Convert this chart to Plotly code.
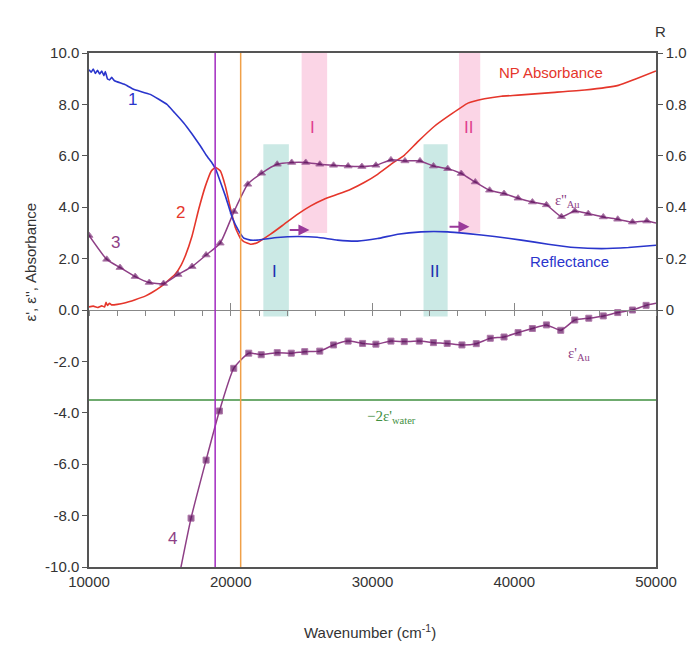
import plotly.graph_objects as go

# ---------------- data ----------------
# Reflectance (right axis, R)
refl_x = [10000, 10150, 10300, 10450, 10600, 10750, 10900, 11050, 11150, 11300, 11450, 11600, 11800,
          12500, 13140, 14320, 15500, 16000, 16670, 17270, 17860, 18300, 18680, 18920, 19030, 19620,
          20100, 20570, 20920, 21400, 21870, 23280, 24700, 26100, 27530, 28940, 30360, 31780, 33420,
          35310, 36730, 38610, 40500, 42390, 44270, 46160, 48050, 50000]
refl_r = [0.935, 0.925, 0.938, 0.920, 0.933, 0.918, 0.930, 0.912, 0.928, 0.900, 0.895, 0.905, 0.892,
          0.878, 0.859, 0.839, 0.800, 0.770, 0.729, 0.685, 0.638, 0.600, 0.572, 0.550, 0.535, 0.444,
          0.360, 0.307, 0.280, 0.272, 0.272, 0.282, 0.286, 0.283, 0.272, 0.268, 0.278, 0.295, 0.304,
          0.304, 0.297, 0.286, 0.272, 0.256, 0.243, 0.239, 0.243, 0.252]

# NP absorbance (left axis)
abs_x = [10000, 10300, 10600, 10900, 11100, 11200, 11300, 11450, 11600, 12000, 12500, 13260, 14000,
         14440, 15000, 15380, 16090, 16500, 16790, 17270, 17740, 18210, 18630, 18920, 19270, 19620,
         19980, 20330, 20690, 20920, 21390, 21870, 22810, 23750, 24700, 25640, 26580, 27530, 28470,
         29410, 30360, 31300, 32240, 33200, 34370, 35550, 36730, 37900, 39090, 40270, 42620, 44980,
         47340, 48520, 50000]
abs_y = [0.12, 0.15, 0.10, 0.16, 0.12, 0.30, 0.18, 0.26, 0.20, 0.22, 0.27, 0.40, 0.55,
         0.68, 0.88, 1.05, 1.40, 1.75, 2.10, 2.88, 3.92, 4.82, 5.41, 5.55, 5.41, 4.82,
         3.95, 3.20, 2.78, 2.66, 2.56, 2.62, 2.95, 3.33, 3.72, 4.05, 4.31, 4.50, 4.70,
         4.96, 5.28, 5.67, 6.02, 6.55, 7.15, 7.62, 8.05, 8.22, 8.32, 8.36, 8.46, 8.56,
         8.74, 8.98, 9.30]

# epsilon'' of gold (triangles)
eps2_x = [10000, 11250, 12190, 13260, 14250, 15260, 16280, 17270, 18260, 19250, 20230, 21200, 22170,
          23280, 24300, 25290, 26280, 27250, 28280, 29250, 30240, 31300, 32290, 33350, 34300, 35310,
          36260, 37250, 38260, 39280, 40270, 41280, 42270, 43330, 44270, 45220, 46280, 47300, 48340,
          49350, 50000]
eps2_y = [2.90, 1.97, 1.65, 1.30, 1.07, 1.03, 1.38, 1.69, 2.14, 2.60, 3.83, 4.89, 5.32,
          5.67, 5.74, 5.74, 5.67, 5.63, 5.60, 5.58, 5.63, 5.84, 5.80, 5.80, 5.60, 5.50,
          5.31, 4.98, 4.66, 4.53, 4.35, 4.20, 4.09, 3.63, 3.85, 3.75, 3.62, 3.53, 3.42,
          3.46, 3.38]

# epsilon' of gold (squares)
eps1_x = [16200, 17200, 18260, 19200, 20210, 21270, 22150, 23280, 24270, 25220, 26280, 27250, 28280,
          29300, 30240, 31300, 32240, 33300, 34300, 35270, 36310, 37320, 38310, 39280, 40270, 41280,
          42270, 43280, 44270, 45260, 46280, 47300, 48340, 49300, 50000]
eps1_y = [-10.8, -8.10, -5.84, -3.93, -2.27, -1.68, -1.74, -1.66, -1.68, -1.62, -1.60, -1.36, -1.21,
          -1.30, -1.33, -1.21, -1.23, -1.21, -1.27, -1.30, -1.36, -1.31, -1.10, -1.05, -0.88, -0.72,
          -0.58, -0.79, -0.39, -0.32, -0.23, -0.10, 0.00, 0.18, 0.26]

# reference lines
minus_2eps_water = -3.5
vline_purple = 18900
vline_orange = 20700

# shaded bands: (x0, x1, y0, y1)
cyan_bands = [(22300, 24100, -0.25, 6.45), (33600, 35300, -0.25, 6.45)]
pink_bands = [(25000, 26800, 3.0, 10.2), (36100, 37600, 3.0, 10.2)]

# arrows: (x_start, x_end, y)
arrows = [(24050, 25550, 3.11), (35330, 36840, 3.24)]

x_ticks = [10000, 20000, 30000, 40000, 50000]
x_tick_text = ["10000", "20000", "30000", "40000", "50000"]
y_ticks = [-10, -8, -6, -4, -2, 0, 2, 4, 6, 8, 10]
y_tick_text = ["-10.0", "-8.0", "-6.0", "-4.0", "-2.0", "0.0", "2.0", "4.0", "6.0", "8.0", "10.0"]
r_ticks = [0, 0.2, 0.4, 0.6, 0.8, 1.0]
r_tick_text = ["0", "0.2", "0.4", "0.6", "0.8", "1.0"]

# ---------------- styling ----------------
BLUE = "#2a35cc"
RED = "#e5362b"
PURPLE_LINE = "#8e3f86"
PURPLE_MARK = "#5e125e"
VIOLET = "#a22bbf"
ORANGE = "#f0a048"
GREEN = "#3f8f3f"
PINK_TXT = "#e0408f"
AX = "#555555"
TXT = "#333333"
FONT = "Arial, Liberation Sans, sans-serif"
SERIF = "Times New Roman, Liberation Serif, serif"

fig = go.Figure()

fig.add_trace(go.Scatter(x=abs_x, y=abs_y, mode="lines",
                         line=dict(color=RED, width=1.6, shape="spline", smoothing=0.4),
                         hoverinfo="skip", showlegend=False))
fig.add_trace(go.Scatter(x=eps2_x, y=eps2_y, mode="lines+markers",
                         line=dict(color=PURPLE_LINE, width=1.5, shape="spline", smoothing=0.5),
                         marker=dict(symbol="triangle-up", size=[7] * (len(eps2_x) - 1) + [0],
                                     color=PURPLE_MARK),
                         hoverinfo="skip", showlegend=False))
fig.add_trace(go.Scatter(x=eps1_x, y=eps1_y, mode="lines+markers",
                         line=dict(color=PURPLE_LINE, width=1.5, shape="spline", smoothing=0.5),
                         marker=dict(symbol="square", size=[6] * (len(eps1_x) - 1) + [0],
                                     color=PURPLE_MARK),
                         hoverinfo="skip", showlegend=False))
fig.add_trace(go.Scatter(x=refl_x, y=refl_r, mode="lines", yaxis="y2",
                         line=dict(color=BLUE, width=1.6, shape="spline", smoothing=0.3),
                         hoverinfo="skip", showlegend=False))
# anchors for the zero-line axes
for ax in ("x2", "x3"):
    fig.add_trace(go.Scatter(x=[30000], y=[0], xaxis=ax, yaxis="y", mode="markers",
                             marker=dict(opacity=0, size=1), hoverinfo="skip", showlegend=False))

shapes = []
for (x0, x1, y0, y1) in cyan_bands:
    shapes.append(dict(type="rect", xref="x", yref="y", x0=x0, x1=x1, y0=y0, y1=y1,
                       fillcolor="rgba(160,215,208,0.55)", line=dict(width=0), layer="below"))
for (x0, x1, y0, y1) in pink_bands:
    shapes.append(dict(type="rect", xref="x", yref="y", x0=x0, x1=x1, y0=y0, y1=y1,
                       fillcolor="rgba(248,178,210,0.55)", line=dict(width=0), layer="below"))
shapes.append(dict(type="line", xref="x", yref="y", x0=10000, x1=50000,
                   y0=minus_2eps_water, y1=minus_2eps_water, line=dict(color=GREEN, width=1.5)))
shapes.append(dict(type="line", xref="x", yref="y", x0=vline_purple, x1=vline_purple,
                   y0=-10, y1=10, line=dict(color=VIOLET, width=1.5)))
shapes.append(dict(type="line", xref="x", yref="y", x0=vline_orange, x1=vline_orange,
                   y0=-10, y1=10, line=dict(color=ORANGE, width=1.5)))

ann = []
def label(x, y, text, color, size=17, family=FONT, xanchor="center"):
    ann.append(dict(x=x, y=y, xref="x", yref="y", text=text, showarrow=False,
                    font=dict(color=color, size=size, family=family), xanchor=xanchor))

label(13090, 8.2, "1", BLUE)
label(16440, 3.8, "2", RED)
label(11840, 2.62, "3", PURPLE_LINE)
label(15900, -8.9, "4", PURPLE_LINE)
label(42620, 9.25, "NP Absorbance", RED, size=15)
label(43900, 1.87, "Reflectance", BLUE, size=15)
label(42750, 4.25, "ε''<sub>Au</sub>", PURPLE_LINE, size=15, family=SERIF, xanchor="left")
label(43650, -1.72, "ε'<sub>Au</sub>", PURPLE_LINE, size=15, family=SERIF, xanchor="left")
label(29450, -4.18, "−2ε'<sub>water</sub>", GREEN, size=15, family=SERIF, xanchor="left")
label(25800, 7.1, "I", PINK_TXT, size=17)
label(36800, 7.1, "II", PINK_TXT, size=17)
label(23100, 1.48, "I", "#1f2fb0", size=17)
label(34350, 1.48, "II", "#1f2fb0", size=17)

for (xs, xe, y) in arrows:
    ann.append(dict(x=xe, y=y, ax=xs, ay=y, xref="x", yref="y", axref="x", ayref="y",
                    text="", showarrow=True, arrowhead=2, arrowsize=1.1, arrowwidth=2,
                    arrowcolor="#9a3a9a"))

# axis titles
ann.append(dict(x=0.496, y=-0.126, xref="paper", yref="paper", text="Wavenumber (cm<sup>-1</sup>)",
                showarrow=False, font=dict(size=15, color=TXT, family=FONT), yanchor="middle"))
ann.append(dict(x=-0.122, y=0.593, xref="paper", yref="paper", text="ε', ε'', Absorbance",
                showarrow=False, textangle=-90, font=dict(size=15, color=TXT, family=FONT)))
ann.append(dict(x=1.021, y=1.062, xref="paper", yref="paper", text="R",
                showarrow=False, font=dict(size=15, color=TXT, family=FONT)))

y_zero_frac = (0 - y_ticks[0]) / (y_ticks[-1] - y_ticks[0])

fig.update_layout(
    width=700, height=645,
    margin=dict(l=89, r=44, t=53, b=78),
    paper_bgcolor="white", plot_bgcolor="white",
    font=dict(family=FONT, color=TXT, size=15),
    shapes=shapes, annotations=ann,
    xaxis=dict(range=[10000, 50000], tickvals=x_ticks, ticktext=x_tick_text, ticks="",
               showline=True, linecolor=AX, linewidth=1.5, mirror=True, showgrid=False,
               zeroline=False, tickfont=dict(size=15, color=TXT)),
    xaxis2=dict(overlaying="x", matches="x", anchor="free", position=y_zero_frac,
                showline=True, linecolor="#888888", linewidth=1, ticks="outside",
                tickmode="linear", tick0=10000, dtick=2000, ticklen=5, tickcolor="#888888",
                showticklabels=False, showgrid=False, zeroline=False),
    xaxis3=dict(overlaying="x", matches="x", anchor="free", position=y_zero_frac,
                showline=False, ticks="inside", tickvals=x_ticks[1:-1], ticklen=7,
                tickcolor="#888888", showticklabels=False, showgrid=False, zeroline=False),
    yaxis=dict(range=[-10, 10], tickvals=y_ticks, ticktext=y_tick_text, ticks="outside",
               ticklen=5, tickcolor=AX, showline=True, linecolor=AX, linewidth=1.5,
               showgrid=False, zeroline=False, tickfont=dict(size=15, color=TXT)),
    yaxis2=dict(overlaying="y", side="right", range=[-1, 1], tickvals=r_ticks,
                ticktext=r_tick_text, ticks="outside", ticklen=5, tickcolor=AX, showline=True,
                linecolor=AX, linewidth=1.5, showgrid=False, zeroline=False,
                tickfont=dict(size=15, color=TXT)),
)

fig.write_html("out.html", config={"displayModeBar": False},
               post_script="document.body.style.margin='0';")
